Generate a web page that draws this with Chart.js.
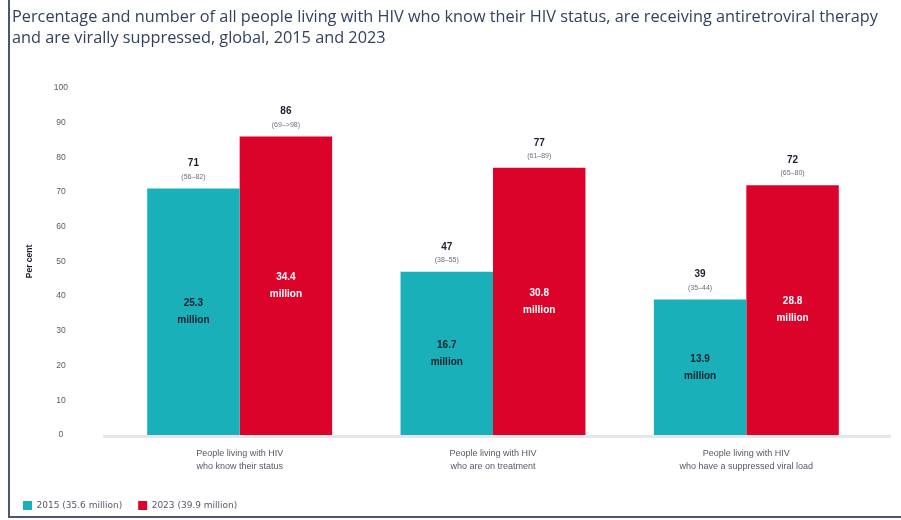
<!DOCTYPE html>
<html>
<head>
<meta charset="utf-8">
<script src="https://cdn.jsdelivr.net/npm/chart.js@4"></script>
<style>
  html, body { margin: 0; padding: 0; background: #fff; }
  #wrap { position: relative; width: 901px; height: 520px; }
  #c { position: absolute; left: 0; top: 0; }
  #title { position: absolute; left: 12px; top: 6px; font-family: 'Open Sans', sans-serif; font-size: 16.3px; line-height: 21px; color: #33415e; white-space: nowrap; }
  .bl { position: absolute; left: 8px; top: 0; width: 2px; height: 518px; background: #4b5670; }
  .bb { position: absolute; left: 8px; top: 516px; width: 893px; height: 2px; background: #4b5670; }
</style>
</head>
<body>
<div id="wrap">
  <canvas id="c" width="901" height="520"></canvas>
  <div id="title"></div>
  <div class="bl"></div>
  <div class="bb"></div>
</div>
<script>
const titleLines = [
  "Percentage and number of all people living with HIV who know their HIV status, are receiving antiretroviral therapy",
  "and are virally suppressed, global, 2015 and 2023"
];
const categories = [
  ["People living with HIV", "who know their status"],
  ["People living with HIV", "who are on treatment"],
  ["People living with HIV", "who have a suppressed viral load"]
];
const seriesNames = ["2015 (35.6 million)", "2023 (39.9 million)"];
const values2015 = [71, 47, 39];
const values2023 = [86, 77, 72];
const ranges2015 = ["(56–82)", "(38–55)", "(35–44)"];
const ranges2023 = ["(69–>98)", "(61–89)", "(65–80)"];
const millions2015 = ["25.3", "16.7", "13.9"];
const millions2023 = ["34.4", "30.8", "28.8"];
const yTicks = [0, 10, 20, 30, 40, 50, 60, 70, 80, 90, 100];

const TEAL = "#1AB0B9";
const RED = "#DC032A";

const titleEl = document.getElementById("title");
titleLines.forEach((t, i) => {
  if (i) titleEl.appendChild(document.createElement("br"));
  titleEl.appendChild(document.createTextNode(t));
});

const labelPlugin = {
  id: "barLabels",
  beforeDatasetsDraw(chart) {
    const ctx = chart.ctx;
    const y = chart.scales.y.getPixelForValue(0);
    ctx.save();
    ctx.fillStyle = "#e2e5ea";
    ctx.fillRect(chart.chartArea.left - 10, y, chart.chartArea.right - chart.chartArea.left + 28, 3);
    ctx.restore();
  },
  afterDatasetsDraw(chart) {
    const ctx = chart.ctx;
    const ranges = [ranges2015, ranges2023];
    const mill = [millions2015, millions2023];
    const inColor = ["#1b1f2e", "#ffffff"];
    ctx.save();
    ctx.textAlign = "center";
    ctx.textBaseline = "middle";
    chart.data.datasets.forEach((ds, di) => {
      const meta = chart.getDatasetMeta(di);
      meta.data.forEach((bar, i) => {
        const x = bar.x, top = bar.y, base = bar.base;
        ctx.fillStyle = "#1b1f2e";
        ctx.font = "bold 10px 'Liberation Sans', Arial, sans-serif";
        ctx.fillText(String(ds.data[i]), x, top - 25);
        ctx.fillStyle = "#6b6f7a";
        ctx.font = "7px 'Liberation Sans', Arial, sans-serif";
        ctx.fillText(ranges[di][i], x, top - 12);
        const mid = (top + base) / 2;
        ctx.fillStyle = inColor[di];
        ctx.font = "bold 10px 'Liberation Sans', Arial, sans-serif";
        ctx.fillText(mill[di][i], x, mid - 8.5);
        ctx.fillText("million", x, mid + 8.5);
      });
    });
    ctx.restore();
  }
};

new Chart(document.getElementById("c"), {
  type: "bar",
  data: {
    labels: categories,
    datasets: [
      { label: seriesNames[0], data: values2015, backgroundColor: TEAL },
      { label: seriesNames[1], data: values2023, backgroundColor: RED }
    ]
  },
  options: {
    responsive: false,
    animation: false,
    layout: { padding: { left: 7, right: 28, top: 88, bottom: 0 } },
    datasets: { bar: { barPercentage: 1, categoryPercentage: 0.73 } },
    plugins: {
      title: { display: false },
      legend: {
        position: "bottom",
        align: "start",
        labels: {
          boxWidth: 9, boxHeight: 9, padding: 16,
          color: "#555a66",
          font: { family: "'DejaVu Sans', sans-serif", size: 9 }
        }
      },
      tooltip: { enabled: false }
    },
    scales: {
      x: {
        grid: { display: false, drawTicks: false },
        border: { display: false },
        ticks: {
          color: "#555a66",
          padding: 12,
          font: { family: "'Liberation Sans', Arial, sans-serif", size: 9, lineHeight: 1.45 }
        }
      },
      y: {
        min: 0, max: 100,
        afterBuildTicks(scale) { scale.ticks = yTicks.map(v => ({ value: v })); },
        afterFit(scale) { scale.width = 106; },
        grid: { display: false, drawTicks: false },
        border: { display: false },
        title: {
          display: true, text: "Per cent", color: "#1b1f2e",
          font: { family: "'Liberation Sans', Arial, sans-serif", size: 8.5, weight: "bold" },
          padding: { top: 18, bottom: 0 }
        },
        ticks: {
          crossAlign: "center",
          padding: 45,
          color: "#555a66",
          font: { family: "'Liberation Sans', Arial, sans-serif", size: 8.5 }
        }
      }
    }
  },
  plugins: [labelPlugin]
});
</script>
</body>
</html>
